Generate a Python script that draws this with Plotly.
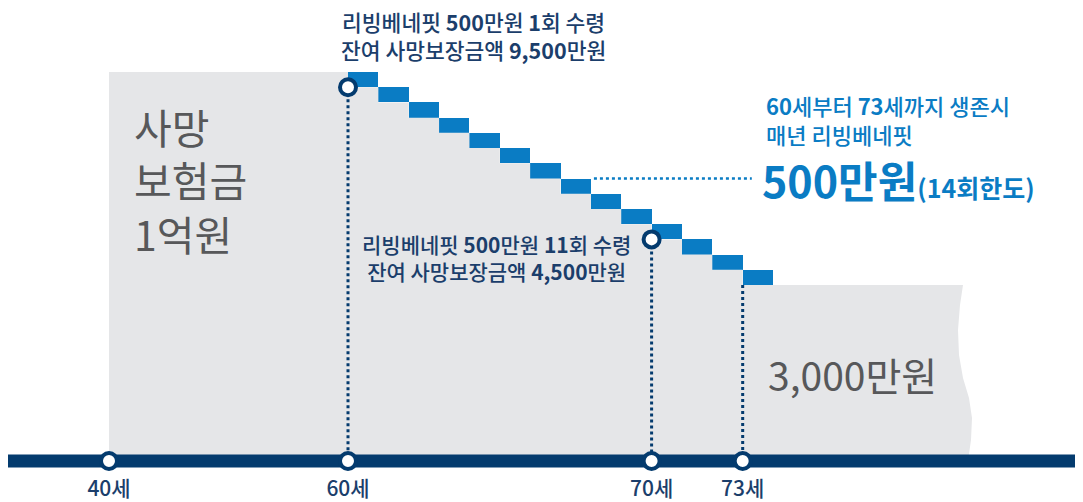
import plotly.graph_objects as go

# ---------------- data ----------------
death_benefit = 10000          # 만원 (사망보험금 1억원)
pay_ages = [60, 61, 62, 63, 64, 65, 66, 67, 68, 69, 70, 71, 72, 73]
payouts = [500, 500, 500, 500, 500, 500, 500, 500, 500, 500, 500, 500, 500, 500]
remaining = [9500, 9000, 8500, 8000, 7500, 7000, 6500, 6000, 5500, 5000, 4500, 4000, 3500, 3000]
final_benefit = 3000
tick_ages = [40, 60, 70, 73]
tick_labels = ["40세", "60세", "70세", "73세"]
marked_ages = [60, 70]           # circles on the staircase
marked_remaining = [9500, 4500]

# ---------------- geometry helpers ----------------
W, H, MB = 1083, 502, 36
PH = H - MB
OFF = 8                      # page body margin offset
PX_PER_YEAR = 30.36
X60_PX = 348
Y_TOP_PX = 72
MAN_PER_PX = 32.86


def ux(px):
    return 60 + (px - X60_PX) / PX_PER_YEAR


def vy(py):
    return death_benefit - (py - Y_TOP_PX) * MAN_PER_PX


def xpos(age):
    # compressed (broken) scale before age 60
    if age >= 60:
        return age
    return 60 - (60 - age) * (239 / PX_PER_YEAR) / 20


NAVY = "#043b6e"
TEXT_NAVY = "#1b3e6b"
BLUE = "#0a7cc4"
GRAY = "#e5e6e8"
DARK_GRAY = "#57585a"
FONT = "Noto Sans CJK KR"
FONT_MED = "Noto Sans CJK KR Medium, Noto Sans CJK KR"


def B(s, size=None):
    st = "font-family:'Noto Sans CJK KR';font-weight:bold"
    if size:
        st += f";font-size:{size}px"
    return f'<span style="{st}">{s}</span>'


base = vy(461)  # timeline level

fig = go.Figure()

# gray area (remaining death benefit, stepped)
gx = [xpos(40), xpos(40), 60]
gy = [base, death_benefit, death_benefit]
for a, r in zip(pay_ages, remaining):
    gx += [a, a + 1]
    gy += [r, r]
# wavy cut edge on the right
wave_px = [(963, 285), (960, 305), (958, 330), (959, 355), (963, 378), (969, 398),
           (972, 418), (971, 440), (968, 461)]
for px, py in wave_px:
    gx.append(ux(px))
    gy.append(vy(py) if py != 285 else final_benefit)
gx.append(xpos(40))
gy.append(base)
fig.add_trace(go.Scatter(x=gx, y=gy, mode="lines", fill="toself", fillcolor=GRAY,
                         line=dict(width=0), hoverinfo="skip", showlegend=False))

# blue payout boxes
fig.add_trace(go.Bar(x=[a + 0.5 for a in pay_ages], y=payouts, base=remaining, width=1,
                     marker=dict(color=BLUE, line=dict(width=0)), showlegend=False,
                     hoverinfo="skip"))

# dotted verticals
for a, top in [(60, 9500), (70, 4500), (73, 3000)]:
    fig.add_trace(go.Scatter(x=[a, a], y=[top, base], mode="lines",
                             line=dict(color=NAVY, width=3, dash="dot"),
                             showlegend=False, hoverinfo="skip"))

# horizontal dotted pointer
fig.add_trace(go.Scatter(x=[68.1, 73.3], y=[6500, 6500], mode="lines",
                         line=dict(color=BLUE, width=2.5, dash="dot"),
                         showlegend=False, hoverinfo="skip"))

# timeline
fig.add_trace(go.Scatter(x=[ux(8), ux(1075)], y=[base, base], mode="lines",
                         line=dict(color=NAVY, width=13), showlegend=False, hoverinfo="skip"))

# circles
circ_x = [xpos(a) for a in tick_ages] + marked_ages
circ_y = [base] * len(tick_ages) + marked_remaining
fig.add_trace(go.Scatter(x=circ_x, y=circ_y, mode="markers",
                         marker=dict(size=16, color="white", line=dict(color=NAVY, width=4)),
                         showlegend=False, hoverinfo="skip"))


def ann(text, px, py, size, color, xanchor="center", family=FONT_MED, align="center"):
    fig.add_annotation(x=(px - OFF) / W, y=(PH - (py - OFF)) / PH, xref="paper", yref="paper",
                       text=text, showarrow=False, xanchor=xanchor, yanchor="middle",
                       align=align, borderpad=0,
                       font=dict(family=family, size=size, color=color))


# top callout
ann(f"리빙베네핏 {B('500')}만원 {B('1')}회 수령<br>잔여 사망보장금액 {B('9,500')}만원",
    473, 36, 21.5, TEXT_NAVY)
# middle callout
ann(f"리빙베네핏 {B('500')}만원 {B('11')}회 수령<br>잔여 사망보장금액 {B('4,500')}만원",
    496, 258, 21, TEXT_NAVY)
# right callout
ann(f"{B('60')}세부터 {B('73')}세까지 생존시<br>매년 리빙베네핏", 765, 120, 22, BLUE, "left",
    align="left")
ann(B("500만원", 43) + B("(14회한도)", 25), 761, 179, 42, BLUE, "left")
# gray labels
ann("사망<br>보험금<br>1억원", 133, 179, 41, DARK_GRAY, "left", family=FONT, align="left")
ann("3,000만원", 767, 374, 39, DARK_GRAY, "left", family=FONT)

fig.update_layout(
    width=W, height=H,
    margin=dict(l=0, r=0, t=0, b=MB),
    paper_bgcolor="white", plot_bgcolor="white",
    bargap=0, barmode="overlay",
    xaxis=dict(range=[ux(OFF), ux(W + OFF)], showgrid=False, zeroline=False, showline=False,
               tickmode="array", tickvals=[xpos(a) for a in tick_ages], ticktext=tick_labels,
               ticks="", tickfont=dict(family=FONT_MED, size=21, color=TEXT_NAVY),
               ticklabelstandoff=0, fixedrange=True),
    yaxis=dict(range=[vy(PH + OFF), vy(OFF)], visible=False, fixedrange=True),
)

fig.write_html("out.html")
